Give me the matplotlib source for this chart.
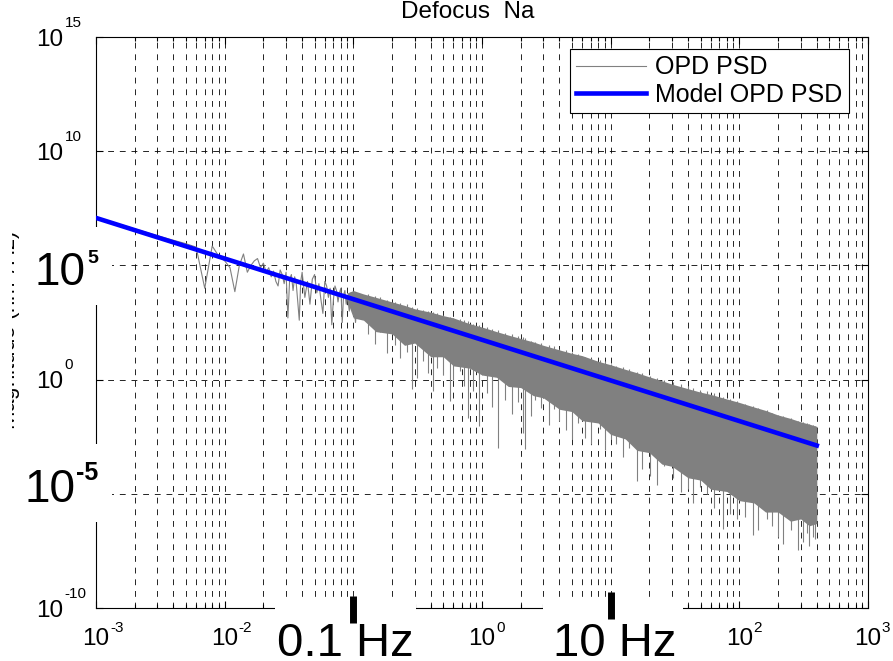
import matplotlib
matplotlib.use("Agg")
import matplotlib.pyplot as plt
import matplotlib.transforms as mtransforms
from matplotlib.patches import Rectangle
from matplotlib.lines import Line2D
from matplotlib.ticker import FixedLocator, LogLocator, NullLocator, NullFormatter
import numpy as np

plt.rcParams['font.family'] = ['Liberation Sans', 'DejaVu Sans']
plt.rcParams['mathtext.fontset'] = 'custom'
plt.rcParams['mathtext.rm'] = 'Liberation Sans'

# ---- data ----
# model PSD: straight line in log-log
model_f = [1e-3, 400]
model_psd = [1.2e7, 1.3e-3]

# OPD PSD, low frequency part (Hz, log10 PSD)
low_f = [0.001, 0.002, 0.003, 0.004, 0.005, 0.006, 0.007, 0.008, 0.009, 0.010,
         0.011, 0.012, 0.013, 0.014, 0.015, 0.016, 0.017, 0.018, 0.019, 0.020,
         0.021, 0.022, 0.023, 0.024, 0.025, 0.026, 0.027, 0.028, 0.029, 0.030,
         0.031, 0.032, 0.033, 0.034, 0.035, 0.036, 0.037, 0.038, 0.039, 0.040,
         0.042, 0.044, 0.046, 0.048, 0.050, 0.052, 0.054, 0.056, 0.058, 0.060,
         0.062, 0.064, 0.066, 0.068, 0.070, 0.072, 0.074, 0.076, 0.078, 0.080,
         0.082, 0.084, 0.086, 0.088, 0.090, 0.093, 0.096, 0.100, 0.104, 0.108,
         0.112, 0.116, 0.120]
low_log = [7.10, 6.60, 6.30, 6.10, 5.95, 5.80, 4.00, 5.85, 5.40, 5.20,
           4.90, 3.85, 5.00, 5.50, 4.70, 5.00, 5.20, 5.30, 4.90, 5.10,
           4.70, 4.90, 4.50, 4.75, 4.30, 4.10, 4.80, 4.60, 4.20, 4.70,
           2.70, 4.40, 4.60, 3.90, 4.50, 4.20, 3.40, 2.60, 4.30, 4.70,
           3.60, 4.30, 3.30, 4.40, 4.60, 3.80, 4.20, 3.50, 2.90, 4.30,
           4.10, 3.60, 4.00, 2.40, 3.50, 4.10, 3.90, 3.40, 3.80, 4.00,
           2.50, 3.70, 3.90, 3.30, 3.70, 3.00, 3.80, 3.60, 2.50, 3.60,
           3.50, 2.90, 3.50]

# dense part: solid band (Hz, log10 upper / lower edge)
band_f = [0.09, 0.1, 0.12, 0.15, 0.2, 0.25, 0.3, 0.4, 0.5, 0.6,
          0.8, 1, 1.3, 1.6, 2, 2.5, 3, 4, 5, 6,
          8, 10, 13, 16, 20, 25, 30, 40, 50, 60,
          80, 100, 130, 160, 200, 250, 300, 350, 400]
band_hi = [3.80, 3.90, 3.75, 3.60, 3.40, 3.25, 3.10, 2.95, 2.80, 2.70,
           2.45, 2.30, 2.10, 1.95, 1.80, 1.65, 1.50, 1.30, 1.15, 1.05,
           0.80, 0.65, 0.45, 0.30, 0.12, -0.05, -0.20, -0.40, -0.55, -0.65,
           -0.85, -1.00, -1.20, -1.35, -1.55, -1.70, -1.85, -1.95, -2.05]
band_lo = [3.40, 2.70, 2.60, 2.10, 2.00, 1.50, 1.60, 1.00, 1.00, 0.60,
           0.50, 0.20, 0.10, -0.30, -0.35, -0.70, -0.80, -1.30, -1.40, -1.80,
           -1.90, -2.40, -2.60, -3.10, -3.20, -3.70, -3.80, -4.30, -4.40, -4.80,
           -4.90, -5.30, -5.40, -5.80, -5.80, -6.20, -6.10, -6.40, -6.30]

# downward spikes below the band (Hz, log10 bottom, log10 top)
spike_f = [0.13, 0.147, 0.16, 0.183, 0.21, 0.23, 0.26, 0.285, 0.312, 0.35,
           0.38, 0.416, 0.45, 0.5, 0.56, 0.6, 0.67, 0.72, 0.778, 0.85,
           0.946, 1.1, 1.2, 1.33, 1.5, 1.7, 1.9, 2.09, 2.15, 2.4,
           2.6, 2.9, 3.3, 3.6, 4.0, 4.5, 5.0, 5.6, 6.3, 7.0,
           8.2, 9.0, 10.0, 11.1, 12.5, 14.0, 16.0, 17.6, 20.2, 23,
           26, 30.6, 35, 40, 44, 49.4, 56, 63, 74.5, 84,
           95.6, 110, 127, 140, 165, 180, 200, 218, 250, 285,
           310, 336, 350, 372, 390]
spike_lo = [2.0, 1.55, 2.1, 1.16, 1.5, 0.94, 1.2, -0.42, 0.06, 0.8,
            0.3, -0.51, 0.5, 0.2, -0.95, 0.0, 0.37, -0.3, -1.7, -0.5,
            -2.05, -0.6, -1.2, -3.0, -0.9, -1.5, -1.0, -2.35, -3.06, -1.6,
            -0.9, -1.26, -2.0, -1.3, -1.83, -2.2, -2.6, -1.9, -2.57, -2.8,
            -2.18, -3.1, -2.6, -2.8, -3.4, -3.0, -4.46, -3.9, -4.24, -4.6,
            -3.8, -4.3, -4.9, -4.8, -5.4, -4.7, -5.0, -5.6, -6.53, -5.9,
            -6.1, -6.0, -6.8, -6.6, -6.1, -6.4, -6.9, -7.2, -6.6, -7.45,
            -7.1, -6.7, -7.3, -6.9, -7.0]
spike_top = [3.75, 3.65, 3.6, 3.5, 3.4, 3.35, 3.3, 3.2, 3.15, 3.05,
             3.0, 2.95, 2.9, 2.85, 2.75, 2.7, 2.65, 2.6, 2.55, 2.45,
             2.4, 2.3, 2.2, 2.15, 2.05, 2.0, 1.9, 1.85, 1.8, 1.7,
             1.65, 1.6, 1.5, 1.45, 1.35, 1.3, 1.2, 1.1, 1.0, 0.95,
             0.85, 0.8, 0.7, 0.6, 0.55, 0.45, 0.35, 0.3, 0.15, 0.05,
             0.0, -0.1, -0.2, -0.3, -0.35, -0.45, -0.5, -0.6, -0.75, -0.85,
             -0.95, -1.05, -1.15, -1.25, -1.35, -1.45, -1.55, -1.6, -1.7, -1.8,
             -1.85, -1.9, -1.95, -2.0, -2.05]

xticks = [1e-3, 1e-2, 1e-1, 1e0, 1e1, 1e2, 1e3]
yticks = [1e-10, 1e-5, 1e0, 1e5, 1e10, 1e15]
# tick labels that are not hidden under the big white labels
xlab_pos = [1e-3, 1e-2, 1e0, 1e2, 1e3]
xlab_exp = ['-3', '-2', '0', '2', '3']
ylab_pos = [1e-10, 1e0, 1e10, 1e15]
ylab_exp = ['-10', '0', '10', '15']

W, H = 893, 661
fig = plt.figure(figsize=(W / 100, H / 100), dpi=100)
ax = fig.add_axes([96 / W, 1 - 608 / H, 772 / W, 571 / H])
ax.set_xscale('log')
ax.set_yscale('log')

gray = '#808080'
ax.fill_between(band_f, 10 ** np.array(band_lo), 10 ** np.array(band_hi),
                color=gray, lw=0, zorder=2)
ax.vlines(spike_f, 10 ** np.array(spike_lo), 10 ** np.array(spike_top),
          color=gray, lw=0.8, zorder=2)
psd_line, = ax.plot(low_f, 10 ** np.array(low_log), color=gray, lw=0.8, zorder=2)
model_line, = ax.plot(model_f, model_psd, color='#0000ff', lw=3.3, zorder=3)

ax.set_xlim(1e-3, 1e3)
ax.set_ylim(1e-10, 1e15)
ax.xaxis.set_major_locator(FixedLocator(xticks))
ax.xaxis.set_minor_locator(LogLocator(base=10, subs=np.arange(2, 10), numticks=20))
ax.xaxis.set_minor_formatter(NullFormatter())
ax.yaxis.set_major_locator(FixedLocator(yticks))
ax.yaxis.set_minor_locator(NullLocator())

dash = (0, (7, 7))
ax.grid(True, which='major', axis='both', color='k', lw=0.6, ls=dash)
ax.grid(True, which='minor', axis='x', color='k', lw=0.6, ls=dash)
ax.tick_params(which='both', direction='in', top=True, right=True,
               labelbottom=False, labelleft=False, width=0.8)
ax.tick_params(which='major', length=5)
ax.tick_params(which='minor', length=3)
for s in ax.spines.values():
    s.set_linewidth(0.8)

# tick labels drawn as "10" plus exponent, like the original
tx = ax.get_xaxis_transform()
for v, e in zip(xlab_pos, xlab_exp):
    ax.annotate('10', (v, 0), xycoords=tx, xytext=(0, -26.6), textcoords='offset points',
                ha='center', va='baseline', fontsize=17.5, annotation_clip=False)
    ax.annotate(e, (v, 0), xycoords=tx, xytext=(10, -17.3), textcoords='offset points',
                ha='left', va='baseline', fontsize=11, annotation_clip=False)
ty = ax.get_yaxis_transform()
for v, e in zip(ylab_pos, ylab_exp):
    ax.annotate('10', (0, v), xycoords=ty, xytext=(-23.5, -6.2), textcoords='offset points',
                ha='right', va='baseline', fontsize=17.5, annotation_clip=False)
    ax.annotate(e, (0, v), xycoords=ty, xytext=(-22.5, 7.5), textcoords='offset points',
                ha='left', va='baseline', fontsize=11, annotation_clip=False)

leg = ax.legend([psd_line, model_line], ['OPD PSD', 'Model OPD PSD'],
                loc='upper left', bbox_to_anchor=(570 / W, 1 - 49 / H),
                bbox_transform=fig.transFigure, fontsize=18, fancybox=False,
                framealpha=1, edgecolor='k', borderaxespad=0, borderpad=0.25,
                labelspacing=0.15, handlelength=2.8, handletextpad=0.35)
leg.get_frame().set_linewidth(0.8)

fig.text(468 / W, 1 - 12 / H, 'Defocus  Na', ha='center', va='center', fontsize=17.5)
# y label: only its lower edge shows in the original, the rest is off the picture
fig.text(16 / W, 1 - 330 / H, 'Magnitude (nm$^2$/Hz)', rotation=90, rotation_mode='anchor',
         ha='center', va='baseline', fontsize=16, zorder=1)

# white boxes with the big overlay labels
ft = fig.transFigure
for x0, y0, x1, y1 in [(0, 200, 12, 460), (22, 227, 112, 305), (22, 444, 112, 522),
                       (275, 597, 416, 661), (543, 597, 683, 661)]:
    fig.add_artist(Rectangle((x0 / W, 1 - y1 / H), (x1 - x0) / W, (y1 - y0) / H,
                             transform=ft, facecolor='white', edgecolor='none', zorder=2))

big = 33
fig.text(86 / W, 1 - 285 / H, '10', ha='right', va='baseline', fontsize=big, zorder=4)
fig.text(87 / W, 1 - 263 / H, '5', ha='left', va='baseline', fontsize=14,
         fontweight='bold', zorder=4)
fig.text(76 / W, 1 - 502 / H, '10', ha='right', va='baseline', fontsize=big, zorder=4)
fig.text(76 / W, 1 - 480 / H, '-5', ha='left', va='baseline', fontsize=18,
         fontweight='bold', zorder=4)
fig.text(277 / W, 1 - 656 / H, '0.1 Hz', ha='left', va='baseline', fontsize=34, zorder=4)
fig.text(553 / W, 1 - 656 / H, '10 Hz', ha='left', va='baseline', fontsize=34, zorder=4)

# thick marks at 0.1 Hz and 10 Hz
bt = mtransforms.blended_transform_factory(ax.transData, ft)
for xv, ya, yb in [(0.1, 596, 623), (10, 592, 619)]:
    fig.add_artist(Line2D([xv, xv], [1 - ya / H, 1 - yb / H], transform=bt,
                          color='k', lw=5, solid_capstyle='butt', zorder=5))

fig.savefig('out.png', dpi=100)
